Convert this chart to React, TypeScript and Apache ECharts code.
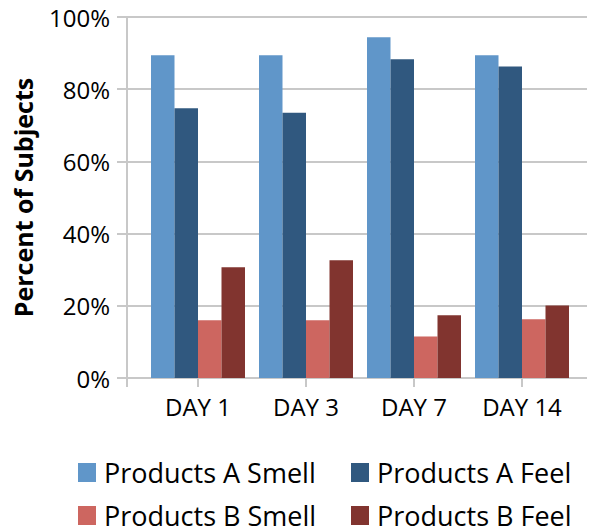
import React, { useEffect, useRef } from "react";
import * as echarts from "echarts";

const categories = ["DAY 1", "DAY 3", "DAY 7", "DAY 14"];
const seriesNames = ["Products A Smell", "Products A Feel", "Products B Smell", "Products B Feel"];
const aSmell = [89.4, 89.4, 94.4, 89.4];
const aFeel = [74.7, 73.5, 88.3, 86.3];
const bSmell = [16.0, 16.0, 11.5, 16.3];
const bFeel = [30.7, 32.6, 17.4, 20.1];
const yTicks = [0, 20, 40, 60, 80, 100];

const colors = ["#6096C9", "#30587F", "#CD6660", "#81342F"];
const FONT = "Open Sans";

export default function App() {
  const ref = useRef<HTMLDivElement>(null);
  useEffect(() => {
    const chart = echarts.init(ref.current!, null, { renderer: "svg" });
    const values = [aSmell, aFeel, bSmell, bFeel];
    const legendBase = {
      orient: "vertical",
      top: 459,
      height: 72,
      padding: 0,
      itemWidth: 18,
      itemHeight: 19,
      itemGap: 16,
      icon: "rect",
      textStyle: { fontSize: 27, lineHeight: 27, color: "#000", fontFamily: FONT, padding: [0, 0, 0, 3] },
    };
    chart.setOption({
      animation: false,
      textStyle: { fontFamily: FONT, color: "#000" },
      grid: [
        { left: 144, right: 14, top: 17, bottom: 153 },
        { left: 127, right: 3, top: 17, bottom: 153 },
      ],
      xAxis: [
        {
          type: "category",
          gridIndex: 0,
          data: categories,
          axisLine: { show: false },
          axisTick: { show: true, alignWithLabel: true, length: 9, lineStyle: { color: "#C8C8C8", width: 2 } },
          axisLabel: { fontSize: 24, color: "#000", margin: 16, fontFamily: FONT },
        },
        {
          type: "value",
          gridIndex: 1,
          min: 0,
          max: 1,
          axisLine: { show: false },
          axisLabel: { show: false },
          splitLine: { show: false },
          axisTick: { show: true, length: 9, customValues: [0], lineStyle: { color: "#C8C8C8", width: 2 } },
        },
      ],
      yAxis: [
        {
          type: "value",
          gridIndex: 0,
          min: 0,
          max: 100,
          interval: 20,
          show: false,
        },
        {
          type: "value",
          gridIndex: 1,
          min: yTicks[0],
          max: yTicks[yTicks.length - 1],
          interval: 20,
          name: "Percent of Subjects",
          nameLocation: "middle",
          nameGap: 92,
          nameTextStyle: { fontSize: 25, fontWeight: "bold", color: "#000", fontFamily: FONT },
          axisLine: { show: true, lineStyle: { color: "#C8C8C8", width: 2 } },
          axisTick: { show: true, length: 10, lineStyle: { color: "#C8C8C8", width: 2 } },
          axisLabel: { fontSize: 24, color: "#000", margin: 17, formatter: "{value}%", fontFamily: FONT },
          splitLine: { show: true, lineStyle: { color: "#C8C8C8", width: 2 } },
        },
      ],
      legend: [
        { ...legendBase, data: [seriesNames[0], seriesNames[2]], left: 78 },
        { ...legendBase, data: [seriesNames[1], seriesNames[3]], left: 351 },
      ],
      series: seriesNames.map((name, i) => ({
        name,
        type: "bar",
        xAxisIndex: 0,
        yAxisIndex: 0,
        data: values[i],
        barWidth: 23.5,
        barGap: "0%",
        itemStyle: { color: colors[i] },
      })),
    });
    return () => chart.dispose();
  }, []);
  return <div ref={ref} style={{ width: 590, height: 531, position: "absolute", left: 0, top: 0 }} />;
}
